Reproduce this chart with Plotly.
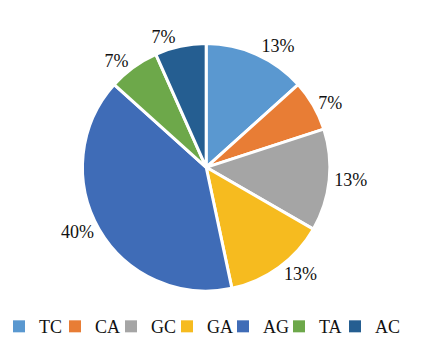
import plotly.graph_objects as go

categories = ["TC", "CA", "GC", "GA", "AG", "TA", "AC"]
values = [2, 1, 2, 2, 6, 1, 1]
colors = ["#5A98D0", "#E87D35", "#A5A5A5", "#F6BB1F", "#3F6CB7", "#6DA84A", "#255E91"]

font_family = "Liberation Serif, Times New Roman, serif"

fig = go.Figure(go.Pie(
    labels=categories,
    values=values,
    sort=False,
    direction="clockwise",
    rotation=0,
    marker=dict(colors=colors, line=dict(color="white", width=3)),
    texttemplate="%{percent:.0%}",
    textposition="outside",
    textfont=dict(family=font_family, size=18, color="#111111"),
    domain=dict(x=[0.176, 0.761], y=[0.205, 0.9]),
    hoverinfo="label+percent",
    showlegend=False,
))

# legend entries (one per category, same colours as the slices)
for i, (cat, col) in enumerate(zip(categories, colors)):
    fig.add_trace(go.Scatter(
        x=[None], y=[None], mode="markers", name=cat,
        marker=dict(symbol="square", size=12, color=col),
        legendwidth=49 if i == len(categories) - 1 else 20,
        hoverinfo="skip",
    ))

fig.update_layout(
    width=423, height=356,
    margin=dict(l=0, r=0, t=0, b=0),
    paper_bgcolor="white",
    plot_bgcolor="white",
    xaxis=dict(visible=False),
    yaxis=dict(visible=False),
    showlegend=True,
    legend=dict(
        orientation="h",
        x=0.0, xanchor="left",
        y=0.105, yanchor="middle",
        font=dict(family=font_family, size=18, color="#111111"),
        itemwidth=30,
        indentation=-9,
        tracegroupgap=0,
        traceorder="normal",
    ),
)

fig.write_html("out.html")
